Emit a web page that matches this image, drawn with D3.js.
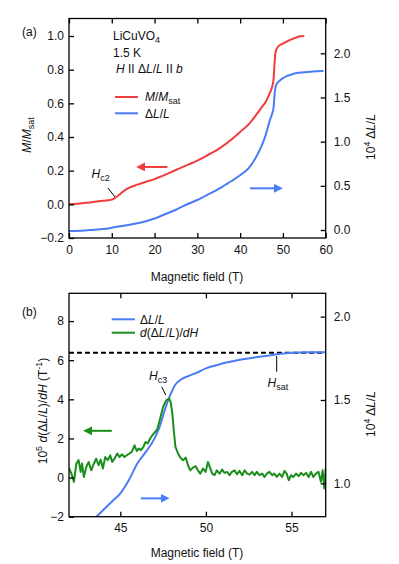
<!DOCTYPE html>
<html>
<head>
<meta charset="utf-8">
<script src="https://cdn.jsdelivr.net/npm/d3@7"></script>
<style>
  body { margin: 0; background: #fff; }
  svg text { font-family: "Liberation Sans", Arial, sans-serif; font-size: 12px; fill: #111; }
</style>
</head>
<body>
<div id="chart"></div>
<script>
// ---- data ----
// panel (a): magnetization M/Msat
var magField = [0, 2, 4, 6, 8, 9, 10, 10.5, 11, 12, 13, 14, 16, 18, 20, 22, 25, 28, 30, 32, 35, 38, 40, 42, 44, 45, 46, 46.5, 47, 47.5, 47.8, 48, 48.2, 48.4, 48.7, 49, 50, 51, 52, 53, 54, 55]
var magValue = [0.0, 0.004, 0.009, 0.015, 0.021, 0.024, 0.028, 0.034, 0.042, 0.062, 0.083, 0.098, 0.117, 0.134, 0.15, 0.171, 0.204, 0.237, 0.26, 0.287, 0.33, 0.385, 0.43, 0.475, 0.54, 0.575, 0.61, 0.635, 0.665, 0.70, 0.74, 0.82, 0.89, 0.915, 0.93, 0.94, 0.955, 0.968, 0.98, 0.99, 0.998, 1.0]
// panel (a): magnetostriction 10^4 dL/L
var strField = [0, 3, 5, 8, 10, 12, 15, 18, 20, 22, 25, 28, 30, 32, 35, 36.5, 38, 40, 42, 44, 45, 46, 47, 47.5, 47.8, 48, 48.2, 48.5, 49, 50, 51, 52, 53, 55, 57, 59.5]
var strValue = [-0.01, -0.008, 0.0, 0.012, 0.026, 0.042, 0.068, 0.10, 0.13, 0.17, 0.23, 0.30, 0.34, 0.39, 0.465, 0.51, 0.555, 0.62, 0.70, 0.85, 0.95, 1.08, 1.25, 1.32, 1.38, 1.50, 1.60, 1.65, 1.68, 1.72, 1.745, 1.76, 1.775, 1.785, 1.795, 1.80]
// panel (b): zoomed magnetostriction
var zoomField = [43.6, 44, 44.5, 45, 45.5, 46, 46.5, 47, 47.3, 47.6, 47.8, 48, 48.2, 48.5, 49, 49.5, 50, 50.5, 51, 52, 53, 54, 55, 56, 57]
var zoomValue = [0.80, 0.84, 0.89, 0.94, 1.02, 1.12, 1.19, 1.27, 1.34, 1.44, 1.50, 1.55, 1.59, 1.62, 1.645, 1.665, 1.69, 1.705, 1.72, 1.742, 1.758, 1.772, 1.784, 1.787, 1.787]
// panel (b): derivative 10^5 d(dL/L)/dH
var derivField = [42.0, 42.14, 42.29, 42.43, 42.56, 42.68, 42.76, 42.87, 43.01, 43.15, 43.3, 43.46, 43.59, 43.73, 43.85, 43.98, 44.12, 44.27, 44.41, 44.52, 44.66, 44.82, 44.95, 45.09, 45.24, 45.38, 45.53, 45.67, 45.83, 45.96, 46.08, 46.21, 46.35, 46.47, 46.6, 46.74, 46.9, 47.03, 47.15, 47.3, 47.5, 47.69, 47.85, 47.94, 48.04, 48.12, 48.22, 48.37, 48.51, 48.66, 48.82, 48.95, 49.09, 49.24, 49.4, 49.53, 49.67, 49.83, 49.98, 50.12, 50.26, 50.37, 50.5, 50.64, 50.8, 50.95, 51.09, 51.24, 51.38, 51.52, 51.67, 51.82, 51.96, 52.12, 52.26, 52.41, 52.55, 52.7, 52.84, 52.97, 53.13, 53.29, 53.42, 53.56, 53.71, 53.87, 54.0, 54.14, 54.3, 54.45, 54.59, 54.72, 54.84, 54.98, 55.11, 55.27, 55.42, 55.56, 55.7, 55.85, 56.0, 56.14, 56.28, 56.43, 56.58, 56.72, 56.82, 56.92, 57.0]
var derivValue = [0.48, 0.2, -0.22, 0.72, 0.89, 0.29, 0.72, 0.03, 0.54, 0.8, 0.37, 0.72, 0.97, 0.63, 0.92, 0.46, 1.05, 0.89, 1.14, 0.8, 0.97, 1.23, 1.05, 1.19, 1.05, 1.14, 1.23, 1.31, 1.65, 1.36, 1.48, 1.4, 1.57, 1.82, 1.74, 2.0, 2.2, 2.33, 2.45, 2.93, 3.61, 3.96, 4.04, 3.87, 3.28, 2.42, 1.57, 1.23, 1.02, 0.89, 1.02, 0.63, 0.37, 0.51, 0.58, 0.37, 0.2, 0.46, 0.29, 0.8, 0.46, 0.2, 0.12, 0.37, 0.2, 0.41, 0.24, 0.29, 0.12, 0.29, 0.37, 0.17, 0.34, 0.12, 0.37, 0.2, 0.15, 0.29, 0.12, 0.29, 0.12, 0.2, 0.03, 0.2, 0.29, 0.12, 0.2, 0.03, 0.2, 0.03, 0.34, 0.2, -0.14, 0.12, 0.03, 0.2, 0.07, 0.24, 0.12, 0.24, 0.03, 0.29, 0.03, 0.2, 0.29, -0.22, 0.37, -0.56, 0.5]
var satLevel = 6.38

// tick labels
var ticksAx = [0, 10, 20, 30, 40, 50, 60]
var ticksAl = [-0.2, 0, 0.2, 0.4, 0.6, 0.8, 1.0]
var ticksAr = [0, 0.5, 1.0, 1.5, 2.0]
var ticksBx = [45, 50, 55]
var ticksBl = [-2, 0, 2, 4, 6, 8]
var ticksBr = [1.0, 1.5, 2.0]

var red = "#f23c3c", blue = "#4a7cf6", green = "#1a8e1a"

var width = 399, height = 564
var left = 69, right = 325.7

var svg = d3.select('#chart').append('svg')
    .attr('width', width).attr('height', height)

svg.append('defs').selectAll('marker')
    .data([['ar', red], ['ab', blue], ['ag', green]])
    .enter().append('marker')
      .attr('id', d => d[0])
      .attr('viewBox', '0 0 10 10').attr('refX', 1).attr('refY', 5)
      .attr('markerWidth', 4.5).attr('markerHeight', 4.5)
      .attr('orient', 'auto-start-reverse')
    .append('path').attr('d', 'M0,0 L10,5 L0,10 Z').attr('fill', d => d[1])

// draws frame with inward ticks on all four sides
function frame (g, x, yl, yr, xt, ylt, yrt, fmtL, fmtR, top, bottom) {
    g.append('g').attr('transform', `translate(0,${bottom})`)
        .call(d3.axisBottom(x).tickValues(xt).tickSize(-5).tickPadding(7).tickFormat(d3.format('d')))
    g.append('g').attr('transform', `translate(0,${top})`)
        .call(d3.axisTop(x).tickValues(xt).tickSize(-5).tickFormat(''))
    g.append('g').attr('transform', `translate(${left},0)`)
        .call(d3.axisLeft(yl).tickValues(ylt).tickSize(-5).tickPadding(5).tickFormat(fmtL))
    g.append('g').attr('transform', `translate(${right},0)`)
        .call(d3.axisRight(yr).tickValues(yrt).tickSize(-5).tickPadding(8).tickFormat(fmtR))
    g.selectAll('.domain').remove()
    g.selectAll('.tick line').attr('stroke', '#000').attr('stroke-width', 1.3)
    g.selectAll('.tick text').attr('font-size', 12).attr('fill', '#111')
    g.append('rect').attr('x', left).attr('y', top)
        .attr('width', right - left).attr('height', bottom - top)
        .attr('fill', 'none').attr('stroke', '#000').attr('stroke-width', 1.3)
}

function curve (g, xs, ys, x, y, color, w, shape) {
    var pts = xs.map((v, i) => [v, ys[i]])
    g.append('path').datum(pts)
        .attr('fill', 'none').attr('stroke', color).attr('stroke-width', w)
        .attr('stroke-linejoin', 'round')
        .attr('d', d3.line().x(d => x(d[0])).y(d => y(d[1])).curve(shape || d3.curveMonotoneX))
}

function arrow (g, x1, x2, y, marker, color) {
    g.append('line').attr('x1', x1).attr('x2', x2).attr('y1', y).attr('y2', y)
        .attr('stroke', color).attr('stroke-width', 2).attr('marker-end', `url(#${marker})`)
}

function label (g, x, y, parts, rotate) {
    var t = g.append('text').attr('text-anchor', rotate ? 'middle' : 'start')
    if (rotate) t.attr('transform', `translate(${x},${y})rotate(-90)`)
    else t.attr('x', x).attr('y', y)
    parts.forEach(p => {
        var s = t.append('tspan').text(p.t)
        if (p.i) s.attr('font-style', 'italic')
        if (p.sub) s.attr('font-size', 9).attr('dy', 3)
        if (p.sup) s.attr('font-size', 9).attr('dy', -5)
        if (p.back) s.attr('dy', p.back)
    })
    return t
}

// ---------- panel (a) ----------
var topA = 18.5, botA = 238
var xA = d3.scaleLinear().domain([0, 60]).range([left, right])
var yAl = d3.scaleLinear().domain([-0.2, 1.104]).range([botA, topA])
var yAr = d3.scaleLinear().domain([-0.09, 2.394]).range([botA, topA])
var ga = svg.append('g')

curve(ga, strField, strValue, xA, yAr, blue, 2)
curve(ga, magField, magValue, xA, yAl, red, 2)
frame(ga, xA, yAl, yAr, ticksAx, ticksAl, ticksAr, d3.format('.1f'), d3.format('.1f'), topA, botA)

label(ga, 22, 36, [{t: '(a)'}])
label(ga, 113, 40, [{t: 'LiCuVO'}, {t: '4', sub: 1}])
label(ga, 113, 57, [{t: '1.5 K'}])
label(ga, 116, 73, [{t: 'H', i: 1}, {t: ' II Δ'}, {t: 'L', i: 1}, {t: '/'}, {t: 'L', i: 1}, {t: ' II '}, {t: 'b', i: 1}])

ga.append('line').attr('x1', 115).attr('x2', 138).attr('y1', 97).attr('y2', 97).attr('stroke', red).attr('stroke-width', 2)
label(ga, 145, 101, [{t: 'M', i: 1}, {t: '/'}, {t: 'M', i: 1}, {t: 'sat', sub: 1}])
ga.append('line').attr('x1', 115).attr('x2', 138).attr('y1', 113.3).attr('y2', 113.3).attr('stroke', blue).attr('stroke-width', 2)
label(ga, 145, 117.5, [{t: 'Δ'}, {t: 'L', i: 1}, {t: '/'}, {t: 'L', i: 1}])

label(ga, 91.5, 178, [{t: 'H', i: 1}, {t: 'c2', sub: 1}])
ga.append('line').attr('x1', 108).attr('y1', 188).attr('x2', 115).attr('y2', 197).attr('stroke', '#000').attr('stroke-width', 1)

arrow(ga, xA(23), xA(17.6), yAl(0.222), 'ar', red)
arrow(ga, xA(42.3), xA(48.1), yAr(0.472), 'ab', blue)

label(ga, 31, 135, [{t: 'M', i: 1}, {t: '/'}, {t: 'M', i: 1}, {t: 'sat', sub: 1}], true)
label(ga, 375, 137, [{t: '10'}, {t: '4', sup: 1}, {t: ' Δ', back: 5}, {t: 'L', i: 1}, {t: '/'}, {t: 'L', i: 1}], true)
ga.append('text').attr('x', 197).attr('y', 281).attr('text-anchor', 'middle').text('Magnetic field (T)')

// ---------- panel (b) ----------
var topB = 293.3, botB = 516.7
var xB = d3.scaleLinear().domain([42, 57]).range([left, right])
var yBl = d3.scaleLinear().domain([-2, 9.42]).range([botB, topB])
var yBr = d3.scaleLinear().domain([0.8, 2.14]).range([botB, topB])
var gb = svg.append('g')

gb.append('clipPath').attr('id', 'clipB').append('rect')
    .attr('x', left).attr('y', topB).attr('width', right - left).attr('height', botB - topB)
var inner = gb.append('g').attr('clip-path', 'url(#clipB)')

inner.append('line').attr('x1', left).attr('x2', right)
    .attr('y1', yBl(satLevel)).attr('y2', yBl(satLevel))
    .attr('stroke', '#000').attr('stroke-width', 2).attr('stroke-dasharray', '5,3')
curve(inner, zoomField, zoomValue, xB, yBr, blue, 2)
curve(inner, derivField, derivValue, xB, yBl, green, 2, d3.curveLinear)
frame(gb, xB, yBl, yBr, ticksBx, ticksBl, ticksBr, d3.format('d'), d3.format('.1f'), topB, botB)

label(gb, 22, 316, [{t: '(b)'}])
gb.append('line').attr('x1', 111.7).attr('x2', 135).attr('y1', 319.3).attr('y2', 319.3).attr('stroke', blue).attr('stroke-width', 2)
label(gb, 140, 323.5, [{t: 'Δ'}, {t: 'L', i: 1}, {t: '/'}, {t: 'L', i: 1}])
gb.append('line').attr('x1', 111.7).attr('x2', 135).attr('y1', 332.7).attr('y2', 332.7).attr('stroke', green).attr('stroke-width', 2)
label(gb, 140, 337, [{t: 'd', i: 1}, {t: '(Δ'}, {t: 'L', i: 1}, {t: '/'}, {t: 'L', i: 1}, {t: ')/'}, {t: 'dH', i: 1}])

label(gb, 149, 380, [{t: 'H', i: 1}, {t: 'c3', sub: 1}])
gb.append('line').attr('x1', 161.7).attr('y1', 386.7).attr('x2', 165.7).attr('y2', 395).attr('stroke', '#000').attr('stroke-width', 1)
label(gb, 267.5, 387.3, [{t: 'H', i: 1}, {t: 'sat', sub: 1}])
gb.append('line').attr('x1', 276.7).attr('y1', 356).attr('x2', 276.7).attr('y2', 371.7).attr('stroke', '#000').attr('stroke-width', 1)

arrow(gb, xB(44.5), xB(43.3), yBl(2.39), 'ag', green)
arrow(gb, xB(46.2), xB(47.4), yBr(0.91), 'ab', blue)

label(gb, 47, 411, [{t: '10'}, {t: '5', sup: 1}, {t: ' ', back: 5}, {t: 'd', i: 1}, {t: '(Δ'}, {t: 'L', i: 1}, {t: '/'}, {t: 'L', i: 1}, {t: ')/'}, {t: 'dH', i: 1}, {t: ' (T'}, {t: '-1', sup: 1}, {t: ')', back: 5}], true)
label(gb, 375, 414, [{t: '10'}, {t: '4', sup: 1}, {t: ' Δ', back: 5}, {t: 'L', i: 1}, {t: '/'}, {t: 'L', i: 1}], true)
gb.append('text').attr('x', 197).attr('y', 557).attr('text-anchor', 'middle').text('Magnetic field (T)')
</script>
</body>
</html>
